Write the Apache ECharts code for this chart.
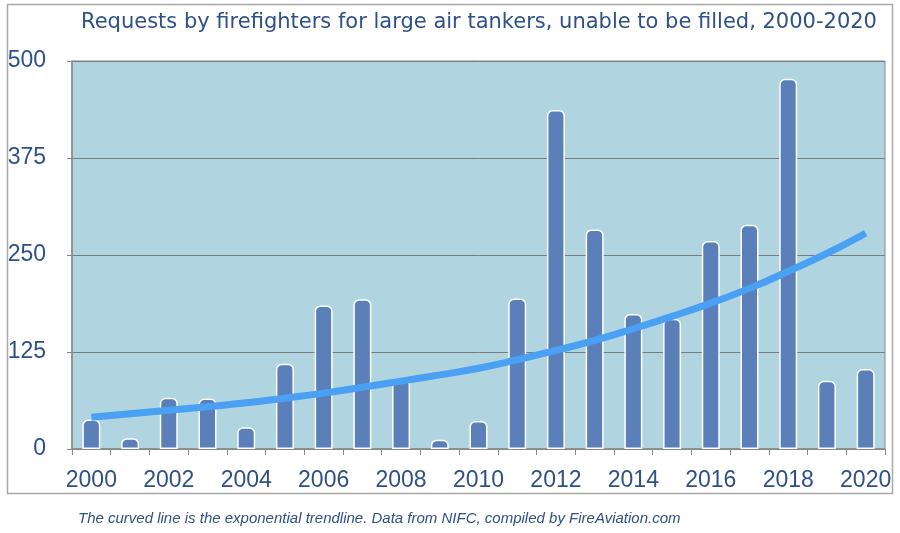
<!DOCTYPE html>
<html>
<head>
<meta charset="utf-8">
<script src="https://cdn.jsdelivr.net/npm/echarts@6/dist/echarts.min.js"></script>
<style>
  html, body { margin: 0; padding: 0; background: #ffffff; }
  #chart { width: 900px; height: 533px; }
</style>
</head>
<body>
<div id="chart"></div>
<script>
// 年份
const years = ['2000', '2001', '2002', '2003', '2004', '2005', '2006', '2007', '2008', '2009', '2010',
               '2011', '2012', '2013', '2014', '2015', '2016', '2017', '2018', '2019', '2020'];

// 未能满足的请求数
const unfilledRequests = [38, 14, 66, 65, 28, 110, 185, 193, 90, 12, 36,
                          194, 437, 283, 174, 168, 268, 289, 477, 88, 103];

// 指数趋势线（从图上逐年读取）
const trendline = [41, 45.5, 50, 54.5, 59.5, 65.5, 72, 79.5, 87.5, 95.5, 104,
                   115, 127, 140, 155, 171, 188, 207, 229, 252, 278];

// y 轴刻度
const yTicks = [0, 125, 250, 375, 500];

const chartDom = document.getElementById('chart');
const myChart = echarts.init(chartDom);

const textBlue = '#2f5088';
const labelFont = 'Liberation Sans';

const option = {
    animation: false,
    backgroundColor: '#ffffff',
    title: {
        text: 'Requests by firefighters for large air tankers, unable to be filled, 2000-2020',
        left: 76,
        top: 7,
        textStyle: {
            color: textBlue,
            fontFamily: 'DejaVu Sans',
            fontWeight: 'normal',
            fontSize: 21
        }
    },
    graphic: [
        {
            type: 'rect',
            shape: { x: 7.5, y: 4.5, width: 885, height: 489 },
            style: { fill: 'none', stroke: '#a8a8a8', lineWidth: 1.5 },
            z: -1
        },
        {
            type: 'text',
            left: 78,
            top: 511,
            style: {
                text: 'The curved line is the exponential trendline. Data from NIFC, compiled by FireAviation.com',
                fill: textBlue,
                font: 'italic 15px "Liberation Sans"'
            }
        }
    ],
    grid: {
        left: 72,
        right: 15,
        top: 61,
        bottom: 84,
        show: true,
        backgroundColor: '#b0d4e0',
        borderColor: '#8a8a8a',
        borderWidth: 1
    },
    xAxis: {
        type: 'category',
        data: years,
        boundaryGap: true,
        axisLine: { lineStyle: { color: '#8a8a8a', width: 1.5 } },
        axisTick: { show: true, interval: 0, length: 6, lineStyle: { color: '#8a8a8a' } },
        axisLabel: {
            interval: 1,
            color: textBlue,
            fontFamily: labelFont,
            fontSize: 23,
            margin: 20
        },
        splitLine: { show: false }
    },
    yAxis: {
        type: 'value',
        min: yTicks[0],
        max: yTicks[yTicks.length - 1],
        interval: 125,
        axisLine: { show: true, lineStyle: { color: '#8a8a8a', width: 1.5 } },
        axisTick: { show: true, length: 5, lineStyle: { color: '#8a8a8a' } },
        axisLabel: {
            color: textBlue,
            fontFamily: labelFont,
            fontSize: 23,
            margin: 26
        },
        splitLine: { lineStyle: { color: '#7c7c7c', width: 1 } }
    },
    series: [
        {
            name: 'Unfilled requests',
            type: 'bar',
            data: unfilledRequests,
            barWidth: 18,
            itemStyle: {
                color: '#5b7fb9',
                borderColor: '#ffffff',
                borderWidth: 1.5,
                borderRadius: [5, 5, 0, 0]
            },
            z: 2
        },
        {
            name: 'Exponential trendline',
            type: 'line',
            data: trendline,
            smooth: true,
            symbol: 'none',
            lineStyle: { color: '#4aa0f2', width: 7, cap: 'butt' },
            z: 3
        }
    ]
};

myChart.setOption(option);

window.addEventListener('resize', function () {
    myChart.resize();
});
</script>
</body>
</html>
